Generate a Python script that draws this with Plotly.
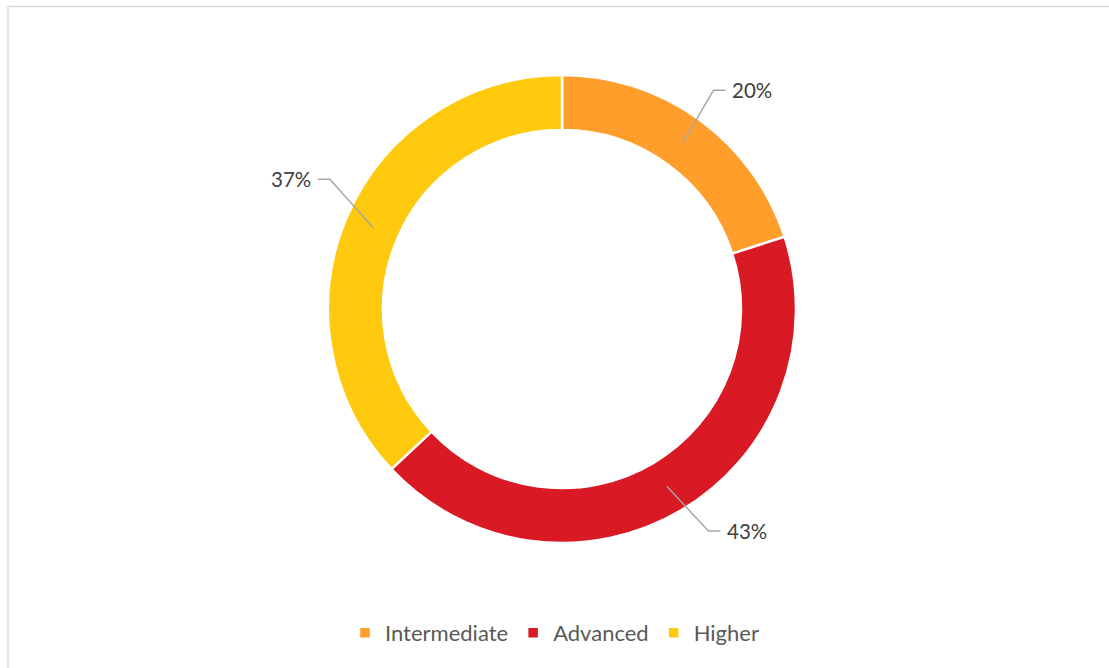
import math
import plotly.graph_objects as go

categories = ["Intermediate", "Advanced", "Higher"]
values = [20, 43, 37]
colors = ["#FF9E2A", "#D91A24", "#FFC90E"]

W, H = 1109, 668
CX, CY, R = 562, 309, 234          # pie centre / radius in pixels
HOLE = 0.765
ANCHOR_R = 206                      # leader start radius
ELBOW_R = 266                       # leader elbow radius
ANGLE_NUDGE = [-1.3, -2.8, 5.8]     # label angle adjustments (deg)
TAIL = 12                           # horizontal leader length

def px(x):
    return x / W

def py(y):
    return 1 - y / H

fig = go.Figure(go.Pie(
    labels=categories, values=values, sort=False, direction="clockwise",
    rotation=0, hole=HOLE, textinfo="none", hoverinfo="label+percent",
    marker=dict(colors=colors, line=dict(color="white", width=2.5)),
    domain=dict(x=[px(CX - R), px(CX + R)], y=[py(CY + R), py(CY - R)]),
))

total = sum(values)
cum = 0
shapes = []
annotations = []
for i, v in enumerate(values):
    mid = (cum + v / 2) / total * 360
    cum += v
    a = math.radians(mid)
    ax, ay = CX + ANCHOR_R * math.sin(a), CY - ANCHOR_R * math.cos(a)
    e = math.radians(mid + ANGLE_NUDGE[i])
    ex, ey = CX + ELBOW_R * math.sin(e), CY - ELBOW_R * math.cos(e)
    side = 1 if math.sin(e) > 0 else -1
    tx = ex + side * TAIL
    shapes.append(dict(type="path", xref="paper", yref="paper",
                       path=f"M {px(ax)} {py(ay)} L {px(ex)} {py(ey)} L {px(tx)} {py(ey)}",
                       line=dict(color="#A6A6A6", width=1.4)))
    pct = round(v / total * 100)
    annotations.append(dict(x=px(tx + side * 5), y=py(ey), xref="paper", yref="paper",
                            text=f"{pct}%", showarrow=False,
                            xanchor="left" if side > 0 else "right", yanchor="middle",
                            font=dict(family="Lato, Open Sans, sans-serif", size=20.5, color="#404040")))

shapes.append(dict(type="rect", xref="paper", yref="paper",
                   x0=px(8), y0=-0.02, x1=1.02, y1=py(6.5),
                   line=dict(color="#D9D9D9", width=1.3), fillcolor="rgba(0,0,0,0)"))

fig.update_layout(
    width=W, height=H,
    margin=dict(l=0, r=0, t=0, b=0),
    paper_bgcolor="white", plot_bgcolor="white",
    shapes=shapes, annotations=annotations,
    showlegend=True,
    legend=dict(orientation="h", x=0.5, xanchor="center", y=py(633), yanchor="middle",
                font=dict(family="Lato, Open Sans, sans-serif", size=22, color="#595959"),
                itemwidth=30, traceorder="normal"),
)

fig.write_html("out.html", config={"displayModeBar": False},
               post_script="document.body.style.margin='0px';")
